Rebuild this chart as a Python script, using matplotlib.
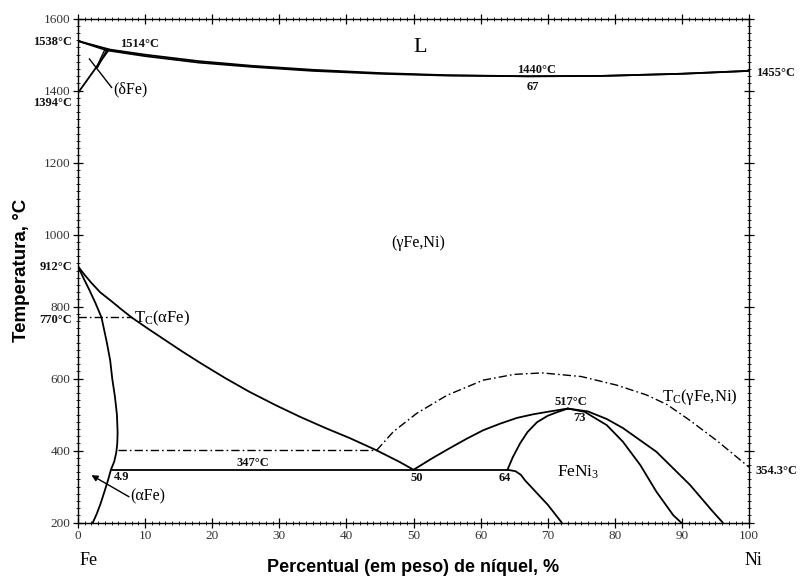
import matplotlib
matplotlib.use("Agg")
import matplotlib.pyplot as plt
from matplotlib.ticker import MultipleLocator

plt.rcParams["mathtext.fontset"] = "custom"
plt.rcParams["mathtext.rm"] = "Liberation Serif"
plt.rcParams["mathtext.it"] = "Liberation Serif:italic"
plt.rcParams["mathtext.bf"] = "Liberation Serif:bold"

SERIF = "Liberation Serif"

# --- phase boundaries: (wt% Ni, temperature °C) ---
liquidus_x = [0, 4.8, 10, 18, 26, 35, 45, 55, 67, 78, 90, 100]
liquidus_t = [1538, 1514, 1500, 1482, 1469, 1458, 1449, 1443, 1440, 1441, 1447, 1455]
solidus_x = [0, 4.3, 10, 18, 26, 35, 45, 55, 67, 78, 90, 100]
solidus_t = [1538, 1512, 1496, 1478, 1466, 1455, 1447, 1442, 1440, 1441, 1447, 1455]

delta_gamma_x = [0, 4.6]
delta_gamma_t = [1394, 1514]
delta_a_x = [4.0, 2.7]
delta_a_t = [1514, 1463]
delta_b_x = [4.3, 2.9]
delta_b_t = [1514, 1464]

alpha_solvus_x = [0, 0.8, 1.6, 2.6, 3.5, 4.3, 4.8, 5.1, 5.5, 5.8, 5.9, 5.85, 5.7, 5.4,
                  4.9, 4.5, 4.0, 3.4, 2.8, 2.2]
alpha_solvus_t = [912, 880, 850, 810, 770, 700, 650, 600, 550, 500, 450, 420, 395, 370,
                  347, 320, 290, 255, 225, 200]

gamma_solvus_x = [0, 1, 2, 3.3, 5, 6.5, 8, 10.5, 13, 15.5, 18.2, 22, 25.6, 29.5, 33.1,
                  37, 40.5, 44.5, 48, 50]
gamma_solvus_t = [912, 888, 866, 840, 815, 792, 770, 738, 707, 676, 644, 601, 563, 526,
                  494, 462, 435, 401, 368, 347]

feni3_left_x = [50, 52.7, 55.4, 57.9, 60.4, 62.9, 65.4, 67.8, 70.3, 73]
feni3_left_t = [347, 378, 407, 433, 457, 475, 491, 501, 509, 517]
feni3_inner_x = [64, 64.8, 65.9, 67, 68.4, 70, 71.4, 73]
feni3_inner_t = [347, 382, 421, 452, 479, 497, 507, 517]
feni3_right_in_x = [73, 75.5, 78.8, 81.2, 83.8, 86.2, 88.7, 89.9]
feni3_right_in_t = [517, 508, 471, 425, 360, 286, 221, 200]
feni3_right_out_x = [73, 76, 78.8, 81.2, 86.2, 91.2, 94.6, 96.1]
feni3_right_out_t = [517, 509, 488, 463, 397, 305, 231, 200]
low_x = [64, 65.2, 66.0, 66.6, 68.0, 70.0, 72.1]
low_t = [347, 343, 333, 318, 290, 250, 200]

eutectoid_x = [4.9, 64]
eutectoid_t = [347, 347]

# --- magnetic transitions ---
tc_alpha_x = [0, 8.0]
tc_alpha_t = [770, 770]
tc_400_x = [5.9, 44.5]
tc_400_t = [401, 401]
tc_gamma_x = [44.5, 47, 50.5, 55, 60.4, 65, 69.2, 75, 80.3, 84.7, 87.8, 91.2, 95.2, 100]
tc_gamma_t = [401, 453, 504, 554, 596, 612, 616, 606, 582, 555, 528, 484, 428, 354.3]

x_ticks = [0, 10, 20, 30, 40, 50, 60, 70, 80, 90, 100]
y_ticks = [200, 400, 600, 800, 1000, 1200, 1400, 1600]

fig = plt.figure(figsize=(8.06, 5.80), dpi=100)
ax = fig.add_axes([0.0968, 0.0988, 0.8325, 0.8690])
ax.set_xlim(0, 100)
ax.set_ylim(200, 1600)

solid = dict(color="black", lw=1.3, solid_capstyle="round", solid_joinstyle="round")
thin = dict(color="black", lw=1.0)
dashdot = dict(color="black", lw=1.0, dashes=(6, 2.2, 1.2, 2.2))

ax.plot(liquidus_x, liquidus_t, **solid)
ax.plot(solidus_x, solidus_t, **solid)
ax.plot(delta_gamma_x, delta_gamma_t, **solid)
ax.plot(delta_a_x, delta_a_t, **thin)
ax.plot(delta_b_x, delta_b_t, **thin)
ax.plot(alpha_solvus_x, alpha_solvus_t, **solid)
ax.plot(gamma_solvus_x, gamma_solvus_t, **solid)
ax.plot(feni3_left_x, feni3_left_t, **solid)
ax.plot(feni3_inner_x, feni3_inner_t, **solid)
ax.plot(feni3_right_in_x, feni3_right_in_t, **solid)
ax.plot(feni3_right_out_x, feni3_right_out_t, **solid)
ax.plot(low_x, low_t, **solid)
ax.plot(eutectoid_x, eutectoid_t, **solid)

ax.plot(tc_alpha_x, tc_alpha_t, **dashdot)
ax.plot(tc_400_x, tc_400_t, **dashdot)
ax.plot(tc_gamma_x, tc_gamma_t, **dashdot)

# pointer lines
ax.plot([1.7, 5.0], [1488, 1409], color="black", lw=1.0)
ax.annotate("", xy=(2.0, 332), xytext=(7.6, 272),
            arrowprops=dict(arrowstyle="-|>", color="black", lw=1.0,
                            mutation_scale=9, shrinkA=0, shrinkB=0))

# --- labels ---
lab = dict(family=SERIF, color="black")
bold = dict(family=SERIF, color="#111111", fontweight="bold", fontsize=9)

ax.text(-0.9, 1534, "1538°C", ha="right", va="center", **bold)
ax.text(6.3, 1530, "1514°C", ha="left", va="center", **bold)
ax.text(-0.9, 1365, "1394°C", ha="right", va="center", **bold)
ax.text(5.2, 1404, "(δFe)", ha="left", va="center", fontsize=11.5, **lab)
ax.text(51, 1520, "L", ha="center", va="center", fontsize=16, **lab)
ax.text(68.4, 1457, "1440°C", ha="center", va="center", **bold)
ax.text(67.8, 1409, "67", ha="center", va="center", **bold)
ax.text(101, 1449, "1455°C", ha="left", va="center", **bold)
ax.text(50.7, 976, "(γFe,Ni)", ha="center", va="center", fontsize=11.5, **lab)
ax.text(-0.9, 910, "912°C", ha="right", va="center", **bold)
ax.text(-0.9, 763, "770°C", ha="right", va="center", **bold)
ax.text(8.3, 768, r"T$_\mathrm{C}$(αFe)", ha="left", va="center", fontsize=12, **lab)
ax.text(87.0, 548, r"T$_\mathrm{C}$(γFe,Ni)", ha="left", va="center", fontsize=12, **lab)
ax.text(73.5, 535, "517°C", ha="center", va="center", **bold)
ax.text(74.8, 490, "73", ha="center", va="center", **bold)
ax.text(74.5, 340, r"FeNi$_3$", ha="center", va="center", fontsize=12.5, **lab)
ax.text(101, 343, "354.3°C", ha="left", va="center", **bold)
ax.text(50.5, 325, "50", ha="center", va="center", **bold)
ax.text(63.6, 325, "64", ha="center", va="center", **bold)
ax.text(26.1, 366, "347°C", ha="center", va="center", **bold)
ax.text(5.3, 326, "4.9", ha="left", va="center", **bold)
ax.text(7.8, 272, "(αFe)", ha="left", va="center", fontsize=11.5, **lab)

# element names under the axis ends
ax.text(1.6, 96, "Fe", ha="center", va="center", fontsize=13, clip_on=False, **lab)
ax.text(100.7, 96, "Ni", ha="center", va="center", fontsize=13, clip_on=False, **lab)

# --- axes, ticks ---
ax.set_xticks(x_ticks)
ax.set_yticks(y_ticks)
ax.xaxis.set_minor_locator(MultipleLocator(1))
ax.yaxis.set_minor_locator(MultipleLocator(20))
ax.tick_params(axis="both", which="major", direction="inout", length=7, width=0.9,
               labelsize=9.5, labelcolor="#333333", pad=2)
ax.tick_params(axis="both", which="minor", direction="inout", length=3.5, width=0.6)
ax.tick_params(axis="x", which="both", top=True)
ax.tick_params(axis="y", which="both", right=True)
for lbl in ax.get_xticklabels() + ax.get_yticklabels():
    lbl.set_family(SERIF)
for s in ax.spines.values():
    s.set_linewidth(1.0)

ax.set_xlabel("Percentual (em peso) de níquel, %", family="Liberation Sans",
              fontweight="bold", fontsize=13, labelpad=12)
ax.set_ylabel("Temperatura, °C", family="Liberation Sans", fontweight="bold",
              fontsize=13.5, labelpad=10)

fig.savefig("out.png", dpi=100)
